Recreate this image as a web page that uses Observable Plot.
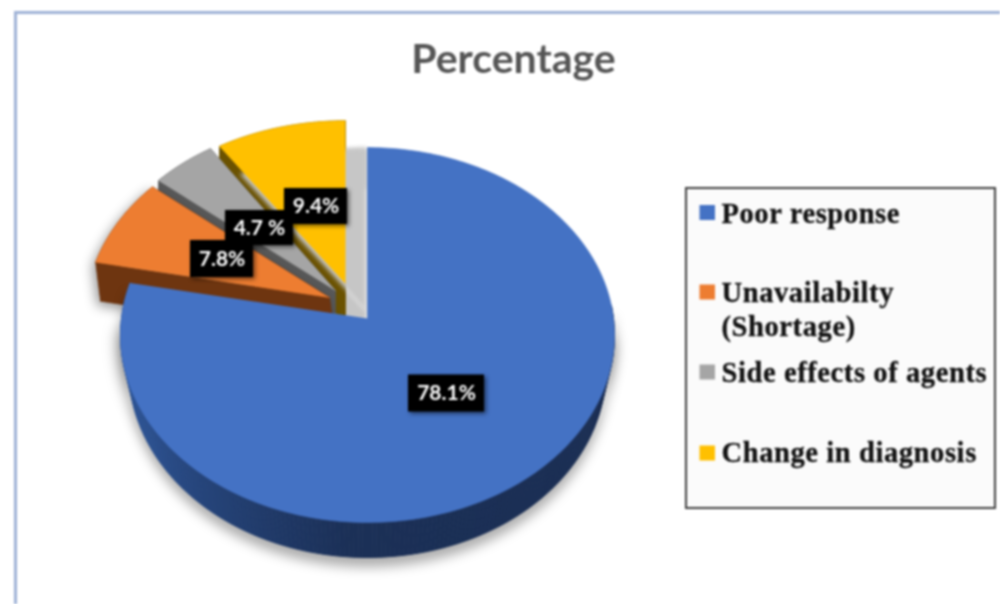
<!DOCTYPE html>
<html>
<head>
<meta charset="utf-8">
<script src="https://cdn.jsdelivr.net/npm/d3@7"></script>
<script src="https://cdn.jsdelivr.net/npm/@observablehq/plot@0.6"></script>
<style>
html,body{margin:0;padding:0;background:#fff;overflow:hidden}
svg{display:block}
</style>
</head>
<body>
<div id="chart"></div>
<script>
// ---- data ----
const chartTitle = "Percentage";
const categories = ["Poor response", "Unavailabilty (Shortage)", "Side effects of agents", "Change in diagnosis"];
const percentages = [78.1, 7.8, 4.7, 9.4];
const valueLabels = ["78.1%", "7.8%", "4.7 %", "9.4%"];
const legendLines = [["Poor response"], ["Unavailabilty", "(Shortage)"], ["Side effects of agents"], ["Change in diagnosis"]];

// ---- styles ----
const faceColors = ["#4472C4", "#ED7D31", "#A5A5A5", "#FFC000"];
const wallColors = ["#1B3057", "#6E3510", "#595959", "#6B5200"];

// ---- layout of the tilted, exploded pie ----
const W = 1000, H = 604;
const main = {cx: 367, cy: 318, rx: 246, a: 186, k: 0.088, depth: 35, shrink: 0.965};
const exploded = [
  null,
  {cx: 329, cy: 297, rx: 243, a: 186, k: 0.1, wdx: 5, wdy: 39},
  {cx: 335, cy: 290, rx: 243, a: 185, k: 0.1, wdx: 0, wdy: 36},
  {cx: 345, cy: 283, rx: 245, a: 179, k: 0.1, wdx: 0, wdy: 40}
];
const labelOffsets = [[79, 75], [-107.5, -38.5], [-76, -62.5], [-29.5, -77]];
const labelBoxes = [[76, 37], [63, 37], [68, 35], [63, 36]];
const legendY = [[213], [292, 326], [372], [452]];
const swatchY = [212.5, 292, 372, 453];

// ---- geometry derived from the values ----
const total = d3.sum(percentages);
const cuts = d3.cumsum(percentages).map(c => c / total * 360);
const spans = percentages.map((_, i) => [i ? cuts[i - 1] : 0, cuts[i]]);
const rad = d => d * Math.PI / 180;

function project(e, t) {
  const u = Math.sin(rad(t)), v = Math.cos(rad(t)), s = 1 + e.k * v;
  return [e.cx + e.rx * u / s, e.cy - e.a * v / s];
}
const mainPt = t => project(main, t);
const slicePt = (i, t) => project(exploded[i], t);
function arc(fn, t0, t1, step = 1) {
  const n = Math.max(1, Math.ceil(Math.abs(t1 - t0) / step)), out = [];
  for (let j = 0; j <= n; j++) out.push(fn(t0 + (t1 - t0) * j / n));
  return out;
}
const poly = (pts, id, color) => pts.map(([x, y]) => ({x, y, id, color}));

// main (blue) slice
const blueFace = poly([[main.cx, main.cy], ...arc(mainPt, spans[0][0], spans[0][1])], "face");
const blueUnder = poly(arc(mainPt, 95, 268), "under");
const wallShade = d3.scaleLinear().domain([285, 240, 185, 90]).range(["#2F5CA3", "#2A4F8E", "#1B3057", "#182B50"]);
const blueWall = [];
d3.range(86, spans[0][1], 1).forEach(t => {
  const seg = arc(mainPt, t, Math.min(t + 1, spans[0][1]));
  const low = seg.map(([x, y]) => [main.cx + (x - main.cx) * main.shrink, y + main.depth]).reverse();
  blueWall.push(...poly([...seg, ...low], "w" + t, wallShade(t + 0.5)));
});

// exploded slices
function sliceFace(i) {
  const e = exploded[i];
  return poly([[e.cx, e.cy], ...arc(t => slicePt(i, t), spans[i][0], spans[i][1])], "f" + i);
}
function sliceWall(i) {
  const e = exploded[i];
  const top = [...arc(t => slicePt(i, t), spans[i][0], spans[i][1]), [e.cx, e.cy]];
  const parts = [];
  top.forEach((p, j) => {
    const q = top[(j + 1) % top.length];
    const seg = [p, q, [q[0] + e.wdx, q[1] + e.wdy], [p[0] + e.wdx, p[1] + e.wdy]];
    parts.push(...poly(seg, `w${i}-${j}`));
  });
  return parts;
}

// value labels
const apex = i => i === 0 ? [main.cx, main.cy] : [exploded[i].cx, exploded[i].cy];
const labels = valueLabels.map((text, i) => {
  const [ax, ay] = apex(i), [ox, oy] = labelOffsets[i], [w, h] = labelBoxes[i];
  const x = ax + ox, y = ay + oy;
  return {text, x, y, x1: x - w / 2, x2: x + w / 2, y1: y - h / 2, y2: y + h / 2};
});

// legend
const legendText = legendLines.flatMap((lines, i) => lines.map((text, j) => ({text, x: 721, y: legendY[i][j]})));
const swatches = categories.map((name, i) => ({
  name, color: faceColors[i], x1: 699.5, x2: 715, y1: swatchY[i] - 7.5, y2: swatchY[i] + 7.5
}));

const polyMark = (data, fill, extra = {}) =>
  Plot.line(data, {x: "x", y: "y", z: "id", fill, stroke: fill, strokeWidth: 0.6, curve: "linear", ...extra});

const svg = Plot.plot({
  width: W,
  height: H,
  margin: 0,
  x: {domain: [0, W], range: [0, W], axis: null},
  y: {domain: [0, H], range: [0, H], axis: null},
  style: {background: "#fff"},
  marks: [
    // outer chart frame
    Plot.ruleY([12], {x1: 15, x2: W, stroke: "#9FB2D6", strokeWidth: 3}),
    Plot.ruleX([15], {y1: 11, y2: H, stroke: "#9FB2D6", strokeWidth: 3}),
    // title
    Plot.text([chartTitle], {
      x: () => 513, y: () => 59, text: d => d, fontSize: 41, fontWeight: 700,
      fontFamily: "Lato, 'Open Sans', sans-serif", fill: "#555555"
    }),
    // yellow slice (its soft shadow lands behind the blue slice)
    polyMark(sliceWall(3), wallColors[3], {imageFilter: "drop-shadow(21px 28px 2px #c6c6c6)"}),
    polyMark(sliceFace(3), faceColors[3], {imageFilter: "drop-shadow(21px 28px 2px #c6c6c6)"}),
    // grey slice
    polyMark(sliceWall(2), wallColors[2]),
    polyMark(sliceFace(2), faceColors[2]),
    // orange slice
    polyMark(sliceWall(1), wallColors[1], {imageFilter: "drop-shadow(-3px 4px 6px rgba(0,0,0,.4))"}),
    polyMark(sliceFace(1), faceColors[1]),
    // blue slice: soft shadow, rim, then top face
    polyMark(blueUnder, faceColors[0], {imageFilter: "drop-shadow(-2px 5px 8px rgba(0,0,0,.35))"}),
    Plot.line(blueWall, {
      x: "x", y: "y", z: "id", fill: "color", stroke: "color", strokeWidth: 1, curve: "linear",
      imageFilter: "drop-shadow(0 9px 6px rgba(0,0,0,.32))"
    }),
    polyMark(blueFace, faceColors[0]),
    // value labels
    Plot.rect(labels, {
      x1: "x1", x2: "x2", y1: "y1", y2: "y2", fill: "#000",
      imageFilter: "drop-shadow(2px 2px 2px rgba(0,0,0,.55))"
    }),
    Plot.text(labels, {
      x: "x", y: "y", text: "text", fill: "#fff", fontSize: 21, fontWeight: 700,
      fontFamily: "Lato, sans-serif"
    }),
    // legend
    Plot.rect([{x1: 686, x2: 995, y1: 188, y2: 508}], {
      x1: "x1", x2: "x2", y1: "y1", y2: "y2", fill: "#FBFBFB", stroke: "#3F3F3F", strokeWidth: 2
    }),
    Plot.rect(swatches, {x1: "x1", x2: "x2", y1: "y1", y2: "y2", fill: "color"}),
    Plot.text(legendText, {
      x: "x", y: "y", text: "text", textAnchor: "start", fill: "#111", stroke: "#111", strokeWidth: 0.3,
      fontSize: 28.5, fontWeight: 700, fontFamily: "'Liberation Serif', serif"
    })
  ]
});
const legendSet = new Set(legendLines.flat());
d3.select(svg).selectAll("text").filter(function () { return legendSet.has(this.textContent); }).style("letter-spacing", "0.6px");
svg.style.filter = "blur(0.9px)";
document.getElementById("chart").append(svg);
</script>
</body>
</html>
